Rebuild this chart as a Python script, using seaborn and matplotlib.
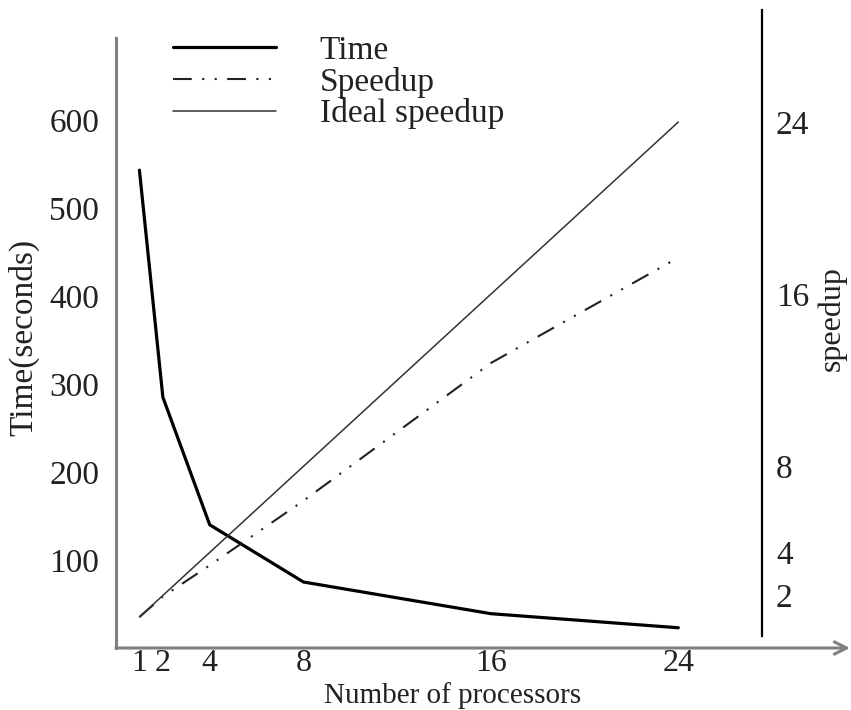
import matplotlib
matplotlib.use("Agg")
import matplotlib.pyplot as plt
import seaborn as sns
import pandas as pd

sns.set_theme(style="white")
plt.rcParams["font.family"] = ["Liberation Serif", "DejaVu Serif"]

# values
processors = [1, 2, 4, 8, 16, 24]
time_sec = [543, 285, 140, 75, 39, 23]
speedup = [1, 1.95, 3.4, 6.4, 12.8, 17.7]
ideal = [1, 2, 4, 8, 16, 24]

time_ticks = [100, 200, 300, 400, 500, 600]
speed_ticks = [2, 4, 8, 16, 24]

df = pd.DataFrame({"p": processors, "time": time_sec, "speedup": speedup, "ideal": ideal})

fig = plt.figure(figsize=(8.51, 7.10), dpi=100)
W, H = 851, 710
ax = fig.add_axes([116 / W, (H - 648) / H, (850 - 116) / W, (648 - 10) / H])

# pixel scales measured on the reference
px_x = 23.43
xmax = (850 - 116) / px_x
ax.set_xlim(0, xmax)
ax.set_ylim(0, (648 - 10) / 0.88)

sns.lineplot(data=df, x="p", y="time", ax=ax, color="black", lw=2.3, label="Time", legend=False)

ax2 = ax.twinx()
ax2.set_ylim((638.5 - 648) / 21.52, (638.5 - 10) / 21.52)
sns.lineplot(data=df, x="p", y="speedup", ax=ax2, color="#222222", lw=1.5,
             linestyle=(0, (9, 5, 1, 5, 1, 5)), label="Speedup", legend=False)
sns.lineplot(data=df, x="p", y="ideal", ax=ax2, color="#333333", lw=1.1,
             label="Ideal speedup", legend=False)
ax2.set_xlim(0, xmax)

fs = 24
# left axis
ax.set_xticks(processors)
ax.set_xticklabels([str(v) for v in processors], fontsize=23)
ax.set_yticks(time_ticks)
ax.set_yticklabels([str(v) for v in time_ticks], fontsize=fs)
ax.tick_params(axis="x", length=0, pad=1, colors="#222222")
ax.tick_params(axis="y", length=0, pad=12, colors="#222222")
ax.set_xlabel("Number of processors", fontsize=21, color="#222222", va="baseline")
ax.xaxis.set_label_coords(0.458, -(703 - 648) / 638)
ax.set_ylabel("Time(seconds)", fontsize=fs, color="#222222")
ax.yaxis.set_label_coords(-0.104, 0.486)

for s in ["top", "right"]:
    ax.spines[s].set_visible(False)
ax.spines["left"].set_color("#808080")
ax.spines["left"].set_linewidth(2.2)
ax.spines["left"].set_bounds(0, (648 - 38) / 0.88)
ax.spines["bottom"].set_visible(False)
ax.annotate("", xy=(1.0, 0), xytext=(0, 0), xycoords="axes fraction",
            arrowprops=dict(arrowstyle="->", color="#808080", lw=2.2,
                            shrinkA=0, shrinkB=0, mutation_scale=22))

# right axis
for s in ["top", "left", "bottom"]:
    ax2.spines[s].set_visible(False)
ax2.spines["right"].set_position(("data", (762 - 116) / px_x))
ax2.spines["right"].set_color("black")
ax2.spines["right"].set_linewidth(1.6)
ax2.spines["right"].set_bounds(0.12, (638.5 - 10) / 21.52)
ax2.set_yticks(speed_ticks)
ax2.set_yticklabels([str(v) for v in speed_ticks], fontsize=fs)
ax2.tick_params(axis="y", length=0, pad=10, colors="#222222")
ax2.set_ylabel("speedup", fontsize=fs - 1, color="#222222")
ax2.yaxis.set_label_coords(0.955, 0.517)
ax2.grid(False)
ax.grid(False)

h1, l1 = ax.get_legend_handles_labels()
h2, l2 = ax2.get_legend_handles_labels()
leg = ax2.legend(h1 + h2, l1 + l2, loc="upper left", bbox_to_anchor=(0.0777, 0.96),
                 frameon=False, fontsize=fs, handlelength=3.1, handletextpad=1.3,
                 labelspacing=0.02, borderpad=0, borderaxespad=0)
for t in leg.get_texts():
    t.set_color("#222222")

fig.savefig("out.png", dpi=100)
